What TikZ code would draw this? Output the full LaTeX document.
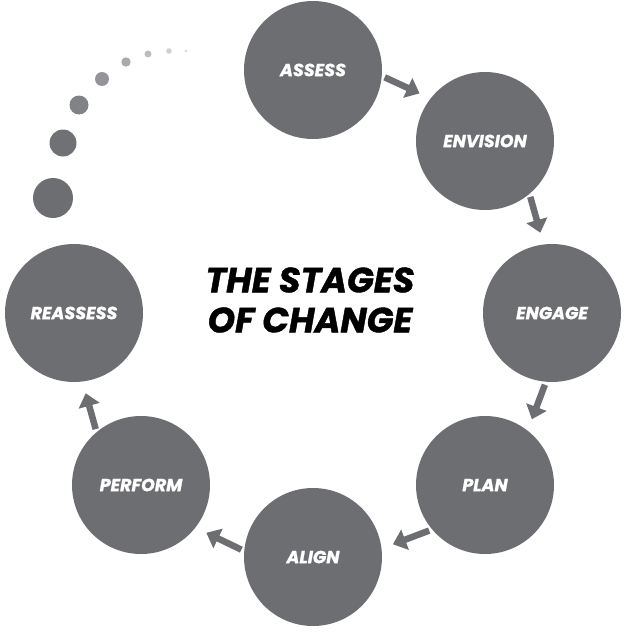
\documentclass[tikz,border=0pt]{standalone}
\usepackage{fontspec}
\setmainfont{Poppins}
\newfontfamily\heavyfont{Poppins}[BoldItalicFeatures={FakeBold=1.2}]
\usetikzlibrary{arrows.meta}
\definecolor{cgray}{HTML}{6D6E71}
\definecolor{dA}{HTML}{6D6E71}
\definecolor{dB}{HTML}{707174}
\definecolor{dC}{HTML}{818285}
\definecolor{dD}{HTML}{939598}
\definecolor{dE}{HTML}{A7A9AC}
\definecolor{dF}{HTML}{BCBEC0}
\definecolor{dG}{HTML}{CFD1D3}
\definecolor{dH}{HTML}{DCDDDE}
\begin{document}
\begin{tikzpicture}[x=1pt,y=-1pt,
  stage/.style={circle,fill=cgray,minimum size=138pt,inner sep=0pt,text=white,
    font=\heavyfont\fontsize{17.5}{20}\selectfont\bfseries\itshape},
  arr/.style={draw=cgray,line width=6.5pt,-{Triangle[width=21pt,length=13pt]},
    shorten <=3pt,shorten >=12pt}]
\useasboundingbox (0,0) rectangle (627,634);
\node[stage] (assess)   at (313,70)  {ASSESS};
\node[stage] (envision) at (485,141) {ENVISION};
\node[stage] (engage)   at (552,313) {ENGAGE};
\node[stage] (plan)     at (485,485) {PLAN};
\node[stage] (align)    at (313,557) {\raisebox{-3pt}{ALIGN}};
\node[stage] (perform)  at (141,485) {PERFORM};
\node[stage] (reassess) at (74,313)  {REASSESS};
\node[font=\heavyfont\fontsize{35}{40}\selectfont\bfseries\itshape,align=center,text=black] (title) at (310,300) {THE STAGES\\OF CHANGE};
\draw[arr] (assess.-5) -- (envision.142);
\draw[arr] (envision.-50) -- (engage.97);
\draw[arr] (engage.-95) -- (plan.52);
\draw[arr] (plan.-140) -- (align.7);
\draw[arr] (align.175) -- (perform.-38);
\draw[arr] (perform.130) -- (reassess.-83);
\fill[dA] (53,198) circle (20);
\fill[dB] (63,143) circle (13.5);
\fill[dC] (79,105) circle (9.5);
\fill[dD] (102,79) circle (7);
\fill[dE] (126,62) circle (4.7);
\fill[dF] (148,54) circle (3.5);
\fill[dG] (169,51) circle (2.8);
\fill[dH] (186,51) circle (1.6);
\end{tikzpicture}
\end{document}
